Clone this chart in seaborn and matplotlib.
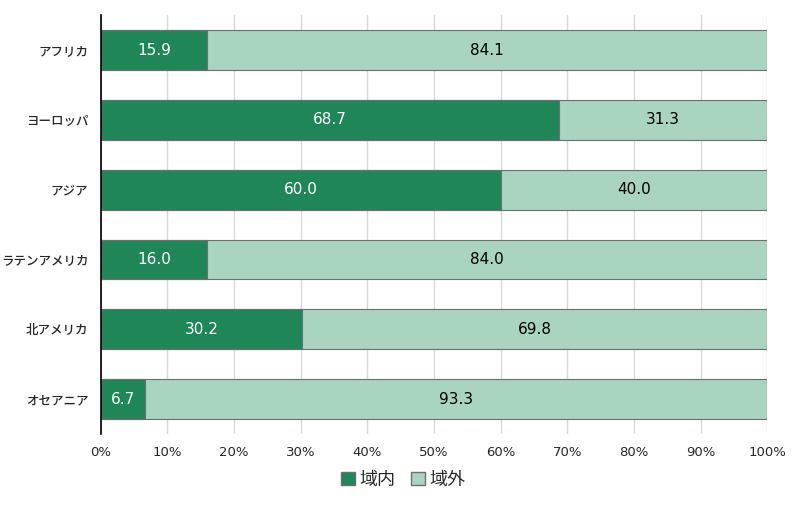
import pandas as pd
import matplotlib.pyplot as plt
import seaborn as sns
from matplotlib.patches import Patch

regions = ['アフリカ', 'ヨーロッパ', 'アジア', 'ラテンアメリカ', '北アメリカ', 'オセアニア']
inside = [15.9, 68.7, 60.0, 16.0, 30.2, 6.7]
outside = [84.1, 31.3, 40.0, 84.0, 69.8, 93.3]

dark = '#1f8757'
light = '#a9d4bf'

sns.set_style('white')
plt.rcParams['font.family'] = ['DejaVu Sans', 'Noto Sans CJK JP']

df = pd.DataFrame({'region': regions, 'inside': inside, 'outside': outside})
df['total'] = df['inside'] + df['outside']

fig = plt.figure(figsize=(8, 5.05), dpi=100)
ax = fig.add_axes([0.126, 0.1406, 0.833, 0.8294])

# light bar is the full length, dark bar sits on top of it
sns.barplot(data=df, x='total', y='region', color=light, width=0.57,
            edgecolor='#6e6e6e', linewidth=0.8, saturation=1, ax=ax, zorder=2)
sns.barplot(data=df, x='inside', y='region', color=dark, width=0.57,
            edgecolor='#6e6e6e', linewidth=0.8, saturation=1, ax=ax, zorder=3)

for i, row in df.iterrows():
    ax.text(row['inside'] / 2, i, f"{row['inside']:.1f}", ha='center', va='center',
            color='white', fontsize=11, zorder=4)
    ax.text(row['inside'] + row['outside'] / 2, i, f"{row['outside']:.1f}", ha='center',
            va='center', color='black', fontsize=11, zorder=4)

ax.set_xlim(0, 100)
ax.set_ylim(5.5, -0.5)
ax.set_xticks(range(0, 101, 10))
ax.set_xticklabels([f'{t}%' for t in range(0, 101, 10)], fontsize=9.5)
ax.tick_params(axis='y', labelsize=9, length=0, pad=9)
ax.tick_params(axis='x', length=0, pad=9)
for lbl in ax.get_yticklabels():
    lbl.set_fontweight('medium')
ax.xaxis.grid(True, color='#d9d9d9', linewidth=1, zorder=0)
ax.set_axisbelow(True)
ax.set_xlabel('')
ax.set_ylabel('')
for s in ['top', 'right', 'bottom']:
    ax.spines[s].set_visible(False)
ax.spines['left'].set_color('black')
ax.spines['left'].set_linewidth(1.2)
ax.spines['left'].set_zorder(5)

handles = [Patch(facecolor=dark, edgecolor='#6e6e6e', label='域内'),
           Patch(facecolor=light, edgecolor='#6e6e6e', label='域外')]
fig.legend(handles=handles, loc='center', bbox_to_anchor=(0.504, 0.05), ncol=2,
           frameon=False, fontsize=13, handlelength=0.75, handleheight=0.75,
           handletextpad=0.25, columnspacing=0.9)

fig.savefig('out.png', dpi=100)
